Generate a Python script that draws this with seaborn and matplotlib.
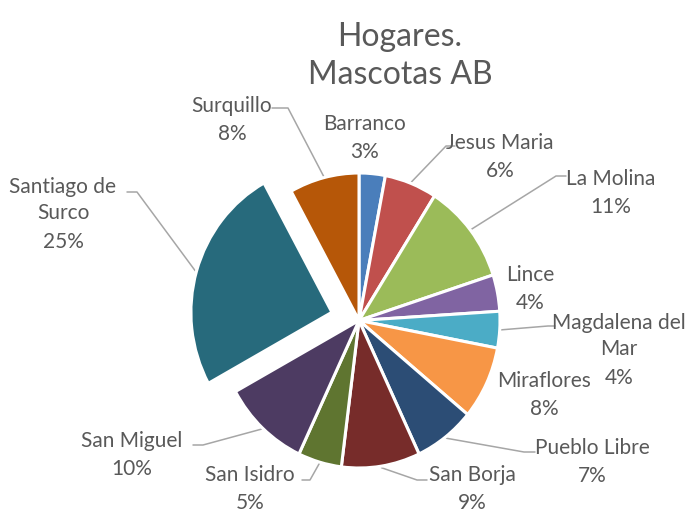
import numpy as np
import matplotlib
matplotlib.use("Agg")
import matplotlib.pyplot as plt
import seaborn as sns

# ── data ────────────────────────────────────────────
districts = ["Barranco", "Jesus Maria", "La Molina", "Lince", "Magdalena del Mar",
             "Miraflores", "Pueblo Libre", "San Borja", "San Isidro", "San Miguel",
             "Santiago de Surco", "Surquillo"]
shares = [3, 6, 11, 4, 4, 8, 7, 9, 5, 10, 25, 8]
label_text = ["Barranco", "Jesus Maria", "La Molina", "Lince", "Magdalena del\nMar",
              "Miraflores", "Pueblo Libre", "San Borja", "San Isidro", "San Miguel",
              "Santiago de\nSurco", "Surquillo"]
colors = ["#4A7EBB", "#C0504D", "#9BBB59", "#8064A2", "#4BACC6", "#F79646",
          "#2C4D75", "#772C2A", "#5F7530", "#4D3B62", "#276A7C", "#B65708"]
explode = [0.2 if d == "Santiago de Surco" else 0 for d in districts]

# ── layout (pixels in the 689x512 image) ─────────────
W, H = 689, 512
CX, CY, RX, RY = 359, 320.5, 141, 147.5
LINE = 27.5  # px between label lines

def px(x, y):
    return (x - CX) / RX, (CY - y) / RY

label_pos = {
    "Barranco": (365, 138), "Jesus Maria": (500, 157), "La Molina": (611, 193),
    "Lince": (530, 289), "Magdalena del Mar": (619, 350), "Miraflores": (544, 395),
    "Pueblo Libre": (592, 462), "San Borja": (472, 489), "San Isidro": (250, 489),
    "San Miguel": (132, 455), "Santiago de Surco": (63, 214), "Surquillo": (232, 120),
}
# label-side end of leader lines (start point, elbow point)
leader_pts = {
    "Surquillo": [(272, 108), (288, 108)],
    "Jesus Maria": [(455, 146), (446, 146)],
    "La Molina": [(566, 176), (556, 176)],
    "Magdalena del Mar": [(555, 326), (548, 326)],
    "Pueblo Libre": [(535, 452), (524, 452)],
    "San Borja": [(427, 480), (417, 480)],
    "San Isidro": [(302, 480), (310, 480)],
    "San Miguel": [(193, 445), (203, 445)],
    "Santiago de Surco": [(127, 192), (137, 192)],
}

sns.set_theme(style="white")
plt.rcParams["font.family"] = ["Lato", "DejaVu Sans"]
text_color = "#595959"
line_color = "#A6A6A6"

fig = plt.figure(figsize=(W / 100, H / 100), dpi=100)
ax = fig.add_axes([0, 0, 1, 1])

wedges, _ = ax.pie(shares, colors=colors, startangle=90, counterclock=False,
                   explode=explode, wedgeprops=dict(edgecolor="white", linewidth=2.2))
ax.set_aspect("auto")
x0, y0 = px(0, H)
x1, y1 = px(W, 0)
ax.set_xlim(x0, x1)
ax.set_ylim(y0, y1)
ax.axis("off")

for d, txt, s, w in zip(districts, label_text, shares, wedges):
    lxp, lyp = label_pos[d]
    n = txt.count("\n") + 2
    top = lyp - (n - 1) / 2 * LINE
    name_y = top + (n - 2) / 2 * LINE
    pct_y = top + (n - 1) * LINE
    ax.text(*px(lxp, name_y), txt, ha="center", va="center", fontsize=15,
            color=text_color, linespacing=1.35)
    ax.text(*px(lxp, pct_y), f"{s}%", ha="center", va="center", fontsize=15,
            color=text_color)
    if d in leader_pts:
        mid = np.deg2rad((w.theta1 + w.theta2) / 2)
        cx, cy = w.center
        ex, ey = cx + 1.01 * np.cos(mid), cy + 1.01 * np.sin(mid)
        pts = [px(*p) for p in leader_pts[d]] + [(ex, ey)]
        xs, ys = zip(*pts)
        ax.plot(xs, ys, color=line_color, lw=1.1, zorder=0)

tx, ty = px(400, 56)
ax.text(tx, ty, "Hogares.\nMascotas AB", ha="center", va="center", fontsize=23,
        color=text_color, linespacing=1.3)

fig.savefig("out.png", dpi=100)
